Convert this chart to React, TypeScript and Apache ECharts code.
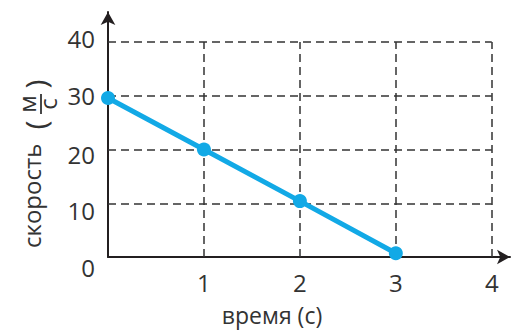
import React, { useEffect, useRef } from "react";
import * as echarts from "echarts";

const timeValues = [0, 1, 2, 3];
const speedValues = [29.6, 20, 10.4, 0.7];
const xTicks = [1, 2, 3, 4];
const yTicks = [10, 20, 30, 40];
const xAxisTitle = "время (с)";
const yAxisTitle = "скорость";
const unitTop = "м";
const unitBottom = "с";

const FONT = "'Open Sans', 'DejaVu Sans', sans-serif";
const TEXT = "#333333";
const AXIS = "#231f20";

// vertical nudge (px) of each y tick label, as in the reference drawing
const yLabelShift: Record<number, number> = { 0: 10, 10: 7, 20: 5, 30: 0, 40: -4 };

const txt = (text: string, x: number, y: number, size: number, align = "center") => ({
  type: "text",
  x,
  y,
  style: {
    text,
    fontSize: size,
    fontFamily: FONT,
    fill: TEXT,
    align,
    verticalAlign: "middle",
  },
});

export default function App() {
  const ref = useRef<HTMLDivElement>(null);
  useEffect(() => {
    document.body.style.margin = "0";
    if (!ref.current) return;
    const chart = echarts.init(ref.current, undefined, { renderer: "svg" });
    const xMax = xTicks[xTicks.length - 1];
    const yMax = yTicks[yTicks.length - 1];
    const gridLines: any[] = [];
    yTicks.forEach((v) => gridLines.push([{ coord: [0, v] }, { coord: [xMax, v] }]));
    xTicks.forEach((v) => gridLines.push([{ coord: [v, 0] }, { coord: [v, yMax] }]));

    const rich: Record<string, any> = {};
    Object.keys(yLabelShift).forEach((k) => {
      const s = yLabelShift[Number(k)];
      rich["l" + k] = {
        fontSize: 24,
        fontFamily: FONT,
        color: TEXT,
        padding: s >= 0 ? [2 * s, 0, 0, 0] : [0, 0, -2 * s, 0],
      };
    });

    chart.setOption({
      animation: false,
      grid: { left: 108, right: 1, top: 12, bottom: 74, containLabel: false },
      xAxis: {
        type: "value",
        min: 0,
        max: 4.19,
        interval: 1,
        splitLine: { show: false },
        axisTick: { show: false },
        axisLine: {
          show: true,
          symbol: ["none", "arrow"],
          symbolSize: [11, 13],
          lineStyle: { color: AXIS, width: 2 },
        },
        axisLabel: {
          margin: 13,
          fontSize: 24,
          fontFamily: FONT,
          color: TEXT,
          showMaxLabel: false,
          formatter: (v: number) => (v === 0 ? "" : String(v)),
        },
      },
      yAxis: {
        type: "value",
        min: 0,
        max: 45.6,
        interval: 10,
        splitLine: { show: false },
        axisTick: { show: false },
        axisLine: {
          show: true,
          symbol: ["none", "arrow"],
          symbolSize: [11, 13],
          lineStyle: { color: AXIS, width: 2 },
        },
        axisLabel: {
          margin: 13,
          fontSize: 24,
          fontFamily: FONT,
          color: TEXT,
          showMaxLabel: false,
          formatter: (v: number) => (yLabelShift[v] !== undefined ? `{l${v}|${v}}` : String(v)),
          rich,
        },
      },
      series: [
        {
          type: "line",
          data: timeValues.map((t, i) => [t, speedValues[i]]),
          symbol: "circle",
          symbolSize: 14,
          lineStyle: { color: "#12a9e6", width: 5 },
          itemStyle: { color: "#12a9e6" },
          z: 5,
          markLine: {
            silent: true,
            symbol: ["none", "none"],
            label: { show: false },
            lineStyle: { color: "#333333", width: 1.5, type: [8, 5] },
            data: gridLines,
            z: 1,
          },
        },
      ],
      graphic: [
        txt(xAxisTitle, 272, 315, 23),
        {
          type: "group",
          x: 31,
          y: 248,
          rotation: Math.PI / 2,
          children: [
            txt(yAxisTitle, 0, 0, 24, "left"),
            txt("(", 123, 4, 30),
            txt(unitTop, 144, -4.5, 24),
            {
              type: "line",
              shape: { x1: 134, y1: 10, x2: 154, y2: 10 },
              style: { stroke: TEXT, lineWidth: 1.8 },
            },
            txt(unitBottom, 144, 16, 24),
            txt(")", 164, 4, 30),
          ],
        },
      ],
    });
    return () => chart.dispose();
  }, []);
  return <div ref={ref} style={{ width: 511, height: 331 }} />;
}
